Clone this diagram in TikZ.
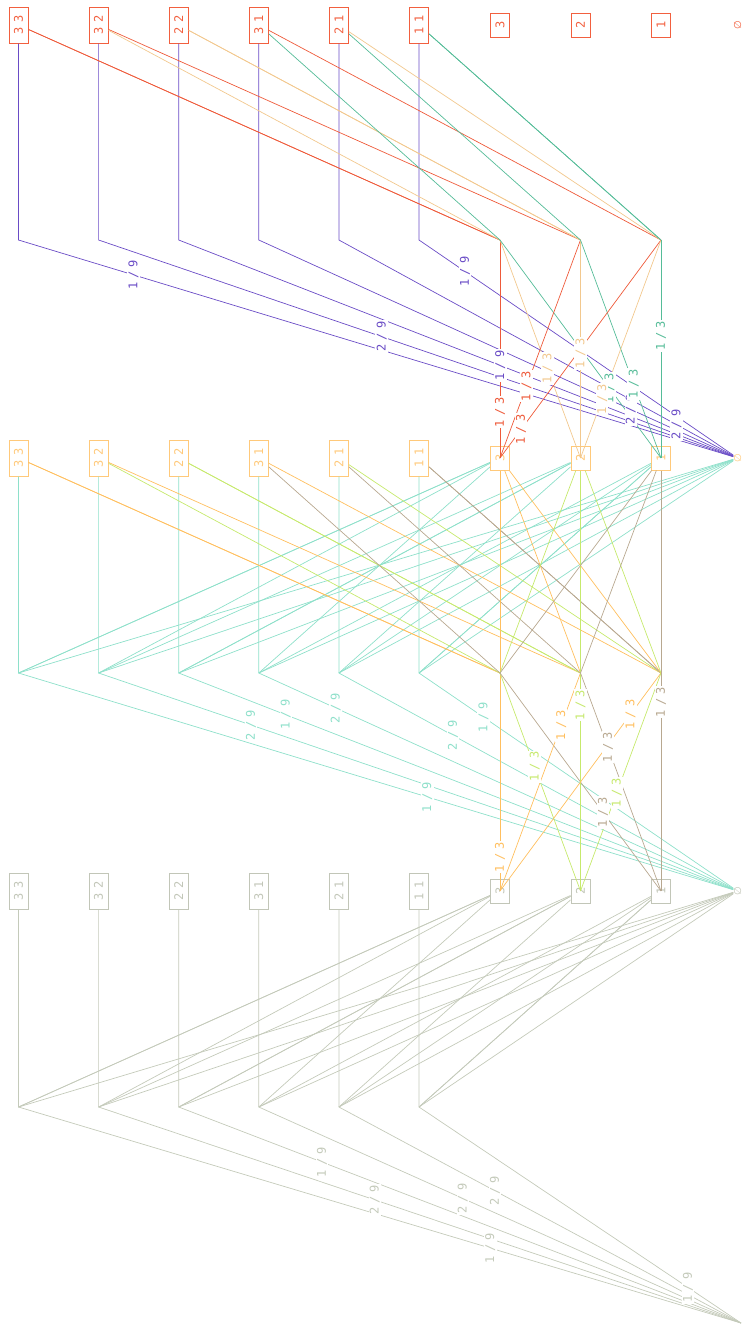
\documentclass[tikz,border=0pt]{standalone}
\usepackage{fontspec}
\newfontfamily\monof[LetterSpace=35]{DejaVu Sans Mono}
\newfontfamily\symf{DejaVu Sans}
% box colours per row
\definecolor{rowc1}{HTML}{F2603F}
\definecolor{rowc2}{HTML}{FFC97A}
\definecolor{rowc3}{HTML}{C2C6B8}
% pair-line colours per panel
\definecolor{pc1}{HTML}{6A4CC6}
\definecolor{pc2}{HTML}{8EE0CA}
\definecolor{pc3}{HTML}{C4CABA}
% single-line colours: panel 1
\definecolor{s13}{HTML}{EE5A3A}
\definecolor{s12}{HTML}{F2C88E}
\definecolor{s11}{HTML}{55BC98}
% single-line colours: panel 2
\definecolor{s23}{HTML}{FFBF5E}
\definecolor{s22}{HTML}{C6E96C}
\definecolor{s21}{HTML}{B8A890}
\begin{document}
\begin{tikzpicture}[x=1pt,y=-1pt,
  txt/.style={font=\monof\fontsize{12}{12}\selectfont},
  box/.style={txt, draw, rectangle, rotate=90, inner sep=0pt, line width=1pt, minimum height=19pt},
  pairbox/.style={box, minimum width=36pt},
  singlebox/.style={box, minimum width=24pt},
  emptynode/.style={font=\symf\fontsize{10}{10}\selectfont, rotate=90, inner sep=0.5pt},
  lbl/.style={txt, fill=white, rotate=90, inner sep=1.2pt},
  ln/.style={line width=0.7pt}]
\useasboundingbox (0,0) rectangle (743,1326);

% ---------- nodes ----------
\foreach \r/\y in {1/25,2/458,3/891}{
  \foreach \n/\k in {33/0,32/1,22/2,31/3,21/4,11/5}{
    \node[pairbox, draw=rowc\r, text=rowc\r] (p\r-\n) at ({18.5+80.1*\k},\y) {\n};
  }
  \foreach \n/\xx in {3/500,2/580.5,1/661}{
    \node[singlebox, draw=rowc\r, text=rowc\r] (s\r-\n) at (\xx,\y) {\n};
  }
  \node[emptynode, text=rowc\r] (e\r) at (737.5,\y) {∅};
}
\coordinate (e4) at (741,1323);

% ---------- junction points ----------
\foreach \r/\y in {1/240,2/673,3/1107}{
  \foreach \n/\k in {33/0,32/1,22/2,31/3,21/4,11/5}{
    \coordinate (jp\r-\n) at ({18.5+80.1*\k},\y);
  }
}
\foreach \r/\y in {1/240,2/673}{
  \foreach \k/\xx in {3/500,2/580.5,1/661}{
    \coordinate (js\r-\k) at (\xx,\y);
  }
}

% ---------- pair lines to the empty node ----------
\foreach \r/\t in {1/2,2/3,3/4}{
  \foreach \n in {33,32,22,31,21,11}{
    \draw[ln, pc\r] (p\r-\n) -- (jp\r-\n) -- (e\t);
  }
}

% ---------- fans from pair junctions (panels 2 and 3) ----------
\foreach \r in {2,3}{
  \foreach \n/\i/\j in {33/3/3,32/3/2,22/2/2,31/3/1,21/2/1,11/1/1}{
    \draw[ln, pc\r] (jp\r-\n) -- (s\r-\i);
    \draw[ln, pc\r] (jp\r-\n) -- (s\r-\j);
    \draw[ln, pc\r] (jp\r-\n) -- (e\r);
  }
}

% ---------- pair boxes to single junctions ----------
\foreach \r in {1,2}{
  \foreach \n/\i/\j in {33/3/3,32/3/2,22/2/2,31/3/1,21/2/1,11/1/1}{
    \draw[ln, s\r\i] (p\r-\n) -- (js\r-\j);
    \draw[ln, s\r\j] (p\r-\n) -- (js\r-\i);
  }
}
% single boxes of row 2 to panel-2 junctions
\foreach \k in {3,2,1}{
  \foreach \m in {3,2,1}{
    \draw[ln, s2\k] (s2-\k) -- (js2-\m);
  }
}
% single junctions to next row single boxes
\foreach \r/\t in {1/2,2/3}{
  \foreach \k in {3,2,1}{
    \foreach \m in {3,2,1}{
      \draw[ln, s\r\m] (js\r-\k) -- (s\t-\m.center);
    }
  }
}

% ---------- labels: pair lines ----------
\foreach \n/\v/\fa/\fb/\fc in {
  33/1/0.161/0.572/0.653,
  32/2/0.446/0.240/0.430,
  22/1/0.580/0.193/0.255,
  31/2/0.784/0.162/0.423,
  21/2/0.856/0.289/0.388,
  11/1/0.146/0.205/0.835}{
  \path (jp1-\n) -- node[lbl, text=pc1, pos=\fa] {\v/9} (e2);
  \path (jp2-\n) -- node[lbl, text=pc2, pos=\fb] {\v/9} (e3);
  \path (jp3-\n) -- node[lbl, text=pc3, pos=\fc] {\v/9} (e4);
}

% ---------- labels: single lines ----------
\foreach \k/\m/\fa in {3/3/0.79,3/2/0.59,3/1/0.68,2/3/0.67,2/2/0.52,2/1/0.66,1/3/0.87,1/2/0.73,1/1/0.44}{
  \path (js1-\k) -- node[lbl, text=s1\m, pos=\fa] {1/3} (s2-\m.center);
}
\foreach \k/\m/\fa in {3/3/0.844,3/2/0.43,3/1/0.64,2/3/0.24,2/2/0.147,2/1/0.34,1/3/0.19,1/2/0.55,1/1/0.133}{
  \path (js2-\k) -- node[lbl, text=s2\m, pos=\fa] {1/3} (s3-\m.center);
}
\end{tikzpicture}
\end{document}
